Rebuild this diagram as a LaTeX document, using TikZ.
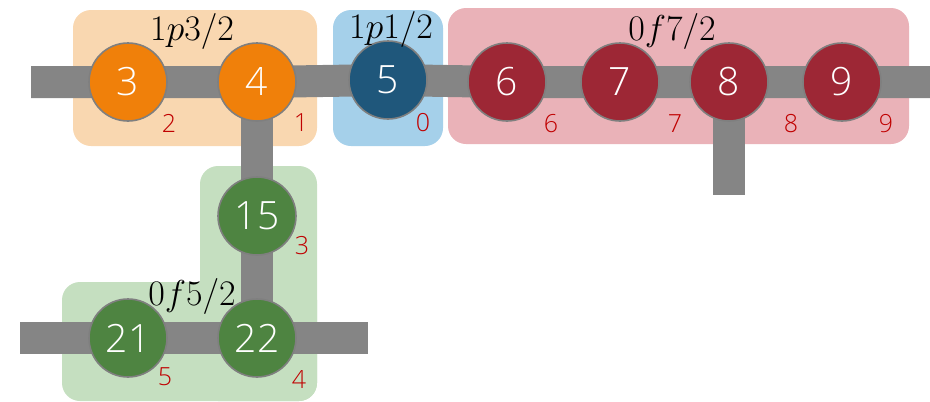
\RequirePackage{fix-cm}
\documentclass[tikz,border=0pt]{standalone}
\usepackage{fontspec}
\setsansfont{Open Sans}[UprightFont=* Light]

\definecolor{ringgray}{HTML}{7F7F7F}
\definecolor{bargray}{HTML}{858585}
\definecolor{idxred}{HTML}{C00000}
\definecolor{orangefill}{HTML}{F0800A}
\definecolor{bluefill}{HTML}{1F577B}
\definecolor{redfill}{HTML}{9D2735}
\definecolor{greenfill}{HTML}{4E8441}
\definecolor{orangeshell}{HTML}{F9D7B0}
\definecolor{blueshell}{HTML}{A5D0EA}
\definecolor{redshell}{HTML}{EAB2B8}
\definecolor{greenshell}{HTML}{C5DFC0}

\pgfdeclarelayer{back}
\pgfsetlayers{back,main}

\begin{document}
\begin{tikzpicture}[x=1pt,y=-1pt,
  site/.style={circle, draw=ringgray, line width=1.6pt, minimum size=78pt,
    inner sep=0pt, text=white, font=\sffamily\fontsize{39}{39}\selectfont},
  bar/.style={draw=bargray, line width=32pt},
  idx/.style={text=idxred, inner sep=0pt, font=\sffamily\fontsize{25}{25}\selectfont},
  shell/.style={inner sep=0pt, font=\fontsize{36}{36}\selectfont},
  box/.style={rounded corners=18pt}]

\useasboundingbox (0,0) rectangle (930,402);

% lattice sites
\node[site, fill=orangefill] (n3) at (128,82) {3};
\node[site, fill=orangefill] (n4) at (257,82) {4};
\node[site, fill=bluefill]   (n5) at (388,80) {5};
\node[site, fill=redfill]    (n6) at (507,82) {6};
\node[site, fill=redfill]    (n7) at (620,82) {7};
\node[site, fill=redfill]    (n8) at (729,82) {8};
\node[site, fill=redfill]    (n9) at (842,82) {9};
\node[site, fill=greenfill]  (n15) at (257,216) {15};
\node[site, fill=greenfill]  (n21) at (128,338) {21};
\node[site, fill=greenfill]  (n22) at (257,338) {22};

% free ends of the bonds
\coordinate (topL) at (31,82);
\coordinate (topR) at (930,82);
\coordinate (stub8) at (729,195);
\coordinate (botL) at (20,338);
\coordinate (botR) at (368,338);

% shell regions and bonds behind the sites
\begin{pgfonlayer}{back}
  \fill[box, orangeshell] (73,10) rectangle (317,146);
  \fill[box, blueshell] (333,10) rectangle (443,146);
  \fill[box, redshell] (448,8) rectangle (909,144);
  \fill[box, greenshell] (200,166) rectangle (317,401);
  \fill[box, greenshell] (62,282) rectangle (317,401);

  \draw[bar] (topL) -- (n3.center) -- (n4.center) -- (n5.center) -- (n6.center)
    -- (n7.center) -- (n8.center) -- (n9.center) -- (topR);
  \draw[bar] (n4.center) -- (n15.center) -- (n22.center);
  \draw[bar] (n8.center) -- (stub8);
  \draw[bar] (botL) -- (n21.center) -- (n22.center) -- (botR);
\end{pgfonlayer}

% site indices
\node[idx] (i3) at (169,123) {2};
\node[idx] (i4) at (301,123) {1};
\node[idx] (i5) at (423,123) {0};
\node[idx] (i6) at (551,124) {6};
\node[idx] (i7) at (675,124) {7};
\node[idx] (i8) at (791,124) {8};
\node[idx] (i9) at (886,124) {9};
\node[idx] (i15) at (302,246) {3};
\node[idx] (i21) at (165,377) {5};
\node[idx] (i22) at (299,380) {4};

% shell labels
\node[shell] (s1) at (192,31) {$1p3/2$};
\node[shell] (s2) at (391,29) {$1p1/2$};
\node[shell] (s3) at (672,31) {$0f7/2$};
\node[shell] (s4) at (192,296) {$0f5/2$};

\end{tikzpicture}
\end{document}
